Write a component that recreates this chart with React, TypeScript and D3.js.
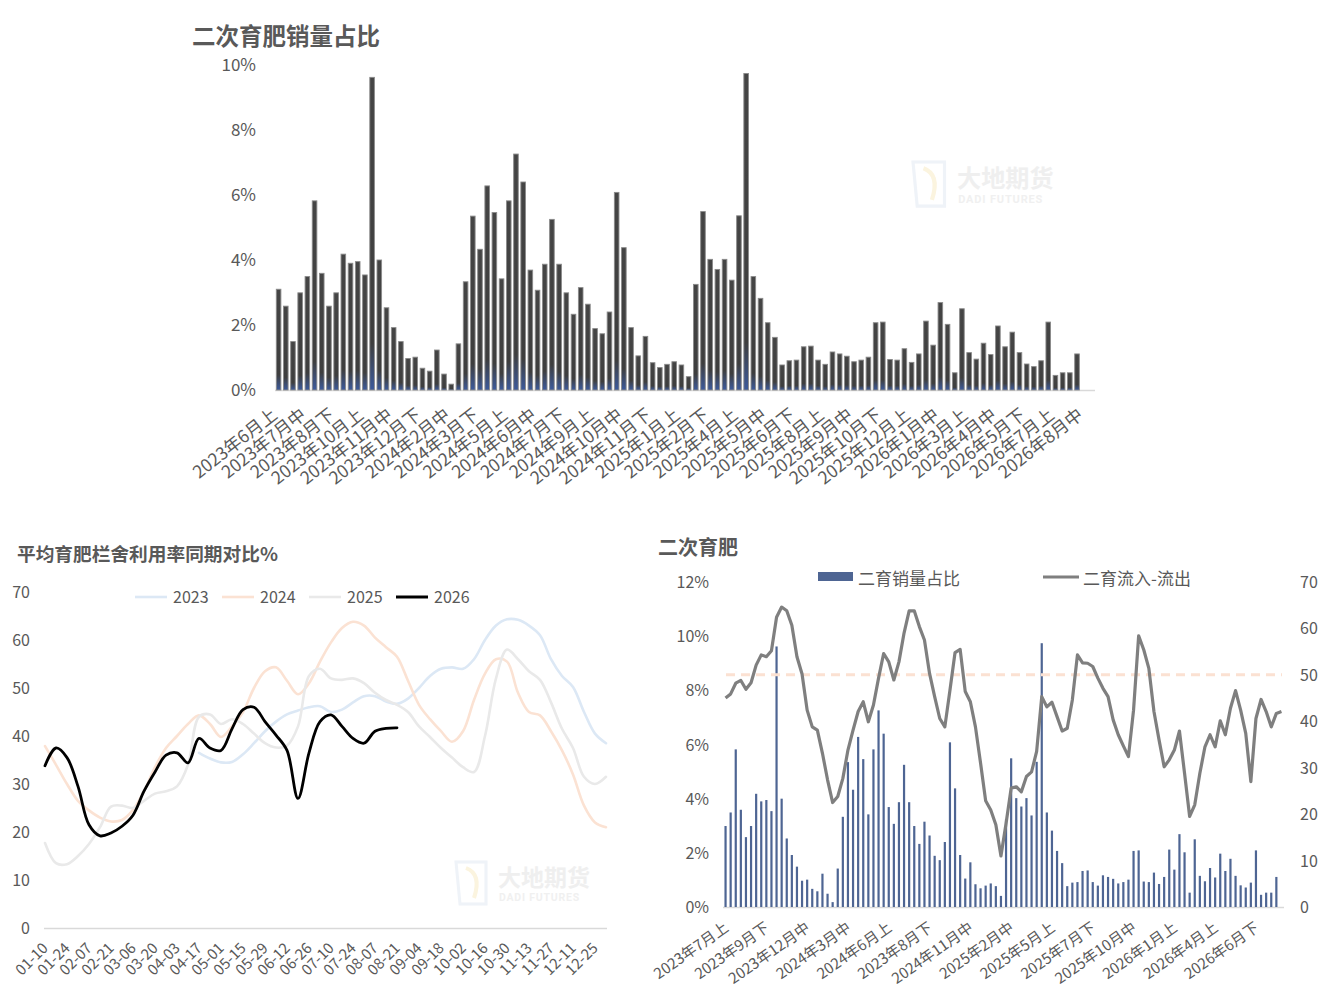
import React from 'react';
import * as d3 from 'd3';

// 二次育肥销量占比 (top chart + bar series of the bottom-right chart)
const salesShare = [
  3.10, 2.58, 1.49, 2.99, 3.49, 5.82, 3.59, 2.58, 2.99, 4.18,
  3.90, 3.95, 3.54, 9.62, 4.00, 2.53, 1.92, 1.49, 0.97, 1.01,
  0.67, 0.58, 1.23, 0.49, 0.18, 1.42, 3.33, 5.35, 4.33, 6.28,
  5.46, 3.42, 5.82, 7.26, 6.40, 3.69, 3.07, 3.87, 5.25, 3.87,
  2.99, 2.33, 3.15, 2.64, 1.89, 1.73, 2.40, 6.08, 4.38, 1.92,
  1.05, 1.65, 0.84, 0.69, 0.79, 0.87, 0.77, 0.41, 3.25, 5.49,
  4.02, 3.71, 4.02, 3.38, 5.36, 9.74, 3.49, 2.82, 2.07, 1.62,
  0.77, 0.90, 0.92, 1.33, 1.35, 0.92, 0.79, 1.17, 1.11, 1.04,
  0.87, 0.92, 1.01, 2.07, 2.09, 0.94, 0.92, 1.27, 0.85, 1.11,
  2.12, 1.38, 2.69, 2.02, 0.53, 2.50, 1.15, 0.95, 1.44, 1.09,
  1.97, 1.33, 1.78, 1.15, 0.80, 0.72, 0.90, 2.09, 0.45, 0.53,
  0.53, 1.11,
];
const topCategoryCount = 114;
const topTickLabels = [
  '2023年6月上', '2023年7月中', '2023年8月下', '2023年10月上', '2023年11月中', '2023年12月下',
  '2024年2月中', '2024年3月下', '2024年5月上', '2024年6月中', '2024年7月下', '2024年9月上',
  '2024年10月中', '2024年11月下', '2025年1月上', '2025年2月下', '2025年4月上', '2025年5月中',
  '2025年6月下', '2025年8月上', '2025年9月中', '2025年10月下', '2025年12月上', '2026年1月中',
  '2026年3月上', '2026年4月中', '2026年5月下', '2026年7月上', '2026年8月中',
];
const topTickStep = 4;

// 二次育肥 (bottom right): starts at the 4th category of the top chart
const comboStart = 3;
const comboTickStep = 8;
const comboTickLabels = [
  '2023年7月上', '2023年9月下', '2023年12月中', '2024年3月中', '2024年6月上', '2023年8月下',
  '2024年11月中', '2025年2月中', '2025年5月上', '2025年7月下', '2025年10月中', '2026年1月上',
  '2026年4月上', '2026年6月下',
];
const flowDiff = [
  45.0, 45.9, 48.2, 48.8, 46.9, 48.3, 52.1, 54.3, 53.9, 55.2,
  62.4, 64.6, 63.8, 60.7, 53.9, 50.2, 42.4, 38.8, 38.1, 33.1,
  27.4, 22.5, 23.8, 27.7, 33.8, 38.1, 42.1, 44.2, 39.9, 43.5,
  49.3, 54.6, 52.8, 48.9, 52.8, 59.0, 63.8, 63.8, 60.4, 57.5,
  50.3, 45.3, 40.6, 38.8, 46.7, 54.8, 55.5, 46.4, 44.2, 38.8,
  31.0, 22.9, 20.9, 17.7, 11.0, 18.0, 25.6, 25.9, 24.8, 28.1,
  29.1, 33.5, 45.3, 43.1, 44.1, 41.0, 37.9, 38.5, 44.6, 54.3,
  52.6, 52.5, 51.8, 49.3, 47.1, 45.3, 40.3, 37.1, 34.7, 32.4,
  42.4, 58.4, 55.4, 51.4, 42.1, 36.0, 30.2, 31.7, 33.8, 37.9,
  28.8, 19.5, 22.0, 28.8, 34.5, 37.1, 34.5, 40.1, 37.1, 42.8,
  46.6, 42.4, 37.4, 27.0, 40.6, 44.7, 42.1, 38.8, 41.7, 42.1,
];
const flowReference = 50;

// 平均育肥栏舍利用率同期对比% (bottom left), weekly
const weekLabels = [
  '01-10', '01-24', '02-07', '02-21', '03-06', '03-20', '04-03', '04-17', '05-01', '05-15',
  '05-29', '06-12', '06-26', '07-10', '07-24', '08-07', '08-21', '09-04', '09-18', '10-02',
  '10-16', '10-30', '11-13', '11-27', '12-11', '12-25',
];
const weekCount = 52;
const occ2023: (number | null)[] = [
  null, null, null, null, null, null, null, null, null, null,
  null, null, null, null, 36.5, 35.3, 34.5, 34.6, 36.2, 38.5,
  41.0, 43.0, 44.5, 45.3, 46.0, 46.2, 45.0, 45.5, 47.0, 48.3,
  48.3, 47.2, 46.7, 47.8, 50.0, 52.5, 54.0, 54.3, 54.0, 56.0,
  60.0, 63.0, 64.3, 64.2, 63.0, 61.0, 56.0, 52.5, 50.2, 45.0,
  40.5, 38.5,
];
const occ2024 = [
  37.9, 34.0, 30.0, 26.5, 24.5, 23.0, 22.2, 22.5, 24.6, 28.5,
  33.5, 37.5, 40.0, 42.5, 44.3, 42.5, 39.8, 42.0, 45.0, 50.0,
  53.5, 54.3, 51.5, 48.7, 51.0, 55.5, 59.5, 62.5, 63.8, 63.0,
  60.5, 58.5, 56.5, 51.5, 46.5, 43.5, 41.0, 38.8, 41.0, 47.5,
  53.0, 56.0, 55.5, 49.0, 45.0, 44.3, 41.0, 37.0, 32.0, 25.5,
  22.0, 21.0,
];
const occ2025 = [
  17.7, 13.5, 13.3, 15.0, 17.5, 21.0, 25.3, 25.5, 25.0, 26.5,
  28.0, 28.5, 29.5, 34.0, 44.0, 44.5, 42.5, 43.5, 42.5, 40.5,
  38.5, 37.6, 38.0, 42.0, 52.5, 54.0, 52.0, 51.7, 52.0, 51.0,
  49.0, 47.5, 46.5, 45.0, 42.0, 39.8, 37.5, 35.5, 33.5, 32.5,
  40.0, 52.0, 58.0, 56.0, 53.5, 51.7, 47.0, 41.5, 37.5, 31.5,
  30.0, 31.5,
];
const occ2026 = [
  33.8, 37.5, 35.5, 29.5, 21.5, 19.2, 19.8, 21.2, 23.5, 28.5,
  32.5, 36.0, 36.5, 34.4, 39.5, 37.5, 37.0, 41.5, 45.5, 46.0,
  43.0, 40.2, 37.0, 27.0, 36.5, 43.0, 44.4, 42.0, 39.5, 38.5,
  41.0, 41.6, 41.7,
];
const occSeries = [
  { name: '2023', values: occ2023, color: '#dce8f5', width: 2.6 },
  { name: '2024', values: occ2024, color: '#fbe2d3', width: 2.6 },
  { name: '2025', values: occ2025, color: '#e9e9e9', width: 2.6 },
  { name: '2026', values: occ2026, color: '#000000', width: 2.8 },
];

const FONT = "'Noto Sans CJK SC', 'Noto Sans', sans-serif";
const TEXT = '#595959';
const AXIS = '#d9d9d9';

const Watermark: React.FC<{ x: number; y: number; s?: number }> = ({ x, y, s = 1 }) => (
  <g transform={`translate(${x},${y}) scale(${s})`} opacity={0.9}>
    <path d="M0,0 H30 V42 H4 Z" fill="none" stroke="#eef2f8" strokeWidth={3} />
    <path d="M10,6 Q26,12 18,36" fill="none" stroke="#fbf3dc" strokeWidth={4} />
    <text x={42} y={24} fontSize={23} fontWeight={700} fill="#eeeeee" fontFamily={FONT}>大地期货</text>
    <text x={43} y={39} fontSize={10.5} fontWeight={700} fill="#efefef" fontFamily="Roboto, sans-serif" letterSpacing={0.8}>DADI FUTURES</text>
  </g>
);

const TopChart: React.FC = () => {
  const x = d3.scaleBand<number>().domain(d3.range(topCategoryCount)).range([275, 1095]);
  const y = d3.scaleLinear().domain([0, 10]).range([390, 65]);
  const bw = 4.6;
  return (
    <g>
      <defs>
        <linearGradient id="topBar" x1="0" y1="0" x2="0" y2="1">
          <stop offset="0%" stopColor="#454545" />
          <stop offset="85%" stopColor="#3e3e3e" />
          <stop offset="100%" stopColor="#3c5a9c" />
        </linearGradient>
      </defs>
      <text x={192} y={45} fontSize={23.5} fontWeight={700} fill={TEXT} fontFamily={FONT}>二次育肥销量占比</text>
      {y.ticks(5).map(t => (
        <text key={t} x={256} y={y(t) + 6} fontSize={17} fill={TEXT} textAnchor="end" fontFamily={FONT}>{`${t}%`}</text>
      ))}
      <line x1={275} x2={1095} y1={390.5} y2={390.5} stroke={AXIS} strokeWidth={1.5} />
      {salesShare.map((v, i) => {
        const cx = x(i)! + x.bandwidth() / 2;
        return (
          <rect key={i} x={cx - bw / 2} y={y(v)} width={bw} height={y(0) - y(v)}
            fill="url(#topBar)" stroke="#8a8a8a" strokeWidth={0.9} />
        );
      })}
      {topTickLabels.map((t, k) => {
        const cx = x(k * topTickStep)! + x.bandwidth() / 2;
        return (
          <text key={t} transform={`translate(${cx},${417}) rotate(-38)`} fontSize={17.5} fill={TEXT}
            textAnchor="end" fontFamily={FONT}>{t}</text>
        );
      })}
      <Watermark x={913} y={162} s={1.05} />
    </g>
  );
};

const OccupancyChart: React.FC = () => {
  const x = d3.scalePoint<number>().domain(d3.range(weekCount)).range([45, 606]);
  const y = d3.scaleLinear().domain([0, 70]).range([928, 592]);
  const line = d3.line<number | null>()
    .defined(d => d != null)
    .x((_, i) => x(i)!)
    .y(d => y(d as number))
    .curve(d3.curveCatmullRom.alpha(0.5));
  const legendX = [135, 222, 309, 396];
  return (
    <g>
      <text x={17} y={561} fontSize={18.7} fontWeight={700} fill={TEXT} fontFamily={FONT}>平均育肥栏舍利用率同期对比%</text>
      {y.ticks(7).map(t => (
        <text key={t} x={30} y={y(t) + 6} fontSize={16} fill={TEXT} textAnchor="end" fontFamily={FONT}>{t}</text>
      ))}
      <line x1={44} x2={607} y1={928.5} y2={928.5} stroke={AXIS} strokeWidth={1.5} />
      <Watermark x={456} y={862} />
      {occSeries.map(s => (
        <path key={s.name} d={line(s.values) || ''} fill="none" stroke={s.color} strokeWidth={s.width}
          strokeLinejoin="round" strokeLinecap="round" />
      ))}
      {occSeries.map((s, k) => (
        <g key={s.name} transform={`translate(${legendX[k]},597)`}>
          <line x1={0} x2={32} y1={0} y2={0} stroke={s.color} strokeWidth={s.name === '2026' ? 3 : 2.6} />
          <text x={38} y={6} fontSize={16} fill={TEXT} fontFamily={FONT}>{s.name}</text>
        </g>
      ))}
      {weekLabels.map((t, k) => {
        const cx = x(k * 2)!;
        return (
          <text key={t} transform={`translate(${cx + 4},${949}) rotate(-45)`} fontSize={15} fill={TEXT}
            textAnchor="end" fontFamily={FONT}>{t}</text>
        );
      })}
    </g>
  );
};

const ComboChart: React.FC = () => {
  const x = d3.scaleBand<number>().domain(d3.range(comboStart, topCategoryCount - 1)).range([723, 1284]);
  const yL = d3.scaleLinear().domain([0, 12]).range([907, 582]);
  const yR = d3.scaleLinear().domain([0, 70]).range([907, 582]);
  const cx = (i: number) => x(i)! + x.bandwidth() / 2;
  const bars = salesShare.slice(comboStart);
  const line = d3.line<number>()
    .x((_, j) => cx(j + comboStart))
    .y(d => yR(d));
  return (
    <g>
      <text x={658} y={555} fontSize={20} fontWeight={700} fill={TEXT} fontFamily={FONT}>二次育肥</text>
      {yL.ticks(6).map(t => (
        <text key={t} x={709} y={yL(t) + 6} fontSize={16} fill={TEXT} textAnchor="end" fontFamily={FONT}>{`${t}%`}</text>
      ))}
      {yR.ticks(7).map(t => (
        <text key={t} x={1300} y={yR(t) + 6} fontSize={16} fill={TEXT} fontFamily={FONT}>{t}</text>
      ))}
      <line x1={723} x2={1284} y1={907.5} y2={907.5} stroke={AXIS} strokeWidth={1.5} />
      {bars.map((v, j) => (
        <rect key={j} x={cx(j + comboStart) - 1.1} y={yL(v)} width={2.2} height={yL(0) - yL(v)} fill="#4e6593" />
      ))}
      <line x1={726} x2={1282} y1={yR(flowReference)} y2={yR(flowReference)} stroke="#fbe1d2"
        strokeWidth={3} strokeDasharray="9,6" />
      <path d={line(flowDiff) || ''} fill="none" stroke="#7f7f7f" strokeWidth={3.2} strokeLinejoin="round" />
      <rect x={818} y={572} width={35} height={9} fill="#4e6593" />
      <text x={858} y={585} fontSize={17} fill={TEXT} fontFamily={FONT}>二育销量占比</text>
      <line x1={1043} x2={1079} y1={577} y2={577} stroke="#7f7f7f" strokeWidth={3.2} />
      <text x={1083} y={585} fontSize={17} fill={TEXT} fontFamily={FONT}>二育流入-流出</text>
      {comboTickLabels.map((t, k) => {
        const px = cx(comboStart + k * comboTickStep);
        return (
          <text key={t} transform={`translate(${px + 4},${930}) rotate(-35)`} fontSize={15} fill={TEXT}
            textAnchor="end" fontFamily={FONT}>{t}</text>
        );
      })}
    </g>
  );
};

export default function App() {
  return (
    <svg width={1321} height={998} style={{ position: 'absolute', left: 0, top: 0, background: '#fff' }}>
      <rect width={1321} height={998} fill="#fff" />
      <TopChart />
      <OccupancyChart />
      <ComboChart />
    </svg>
  );
}
